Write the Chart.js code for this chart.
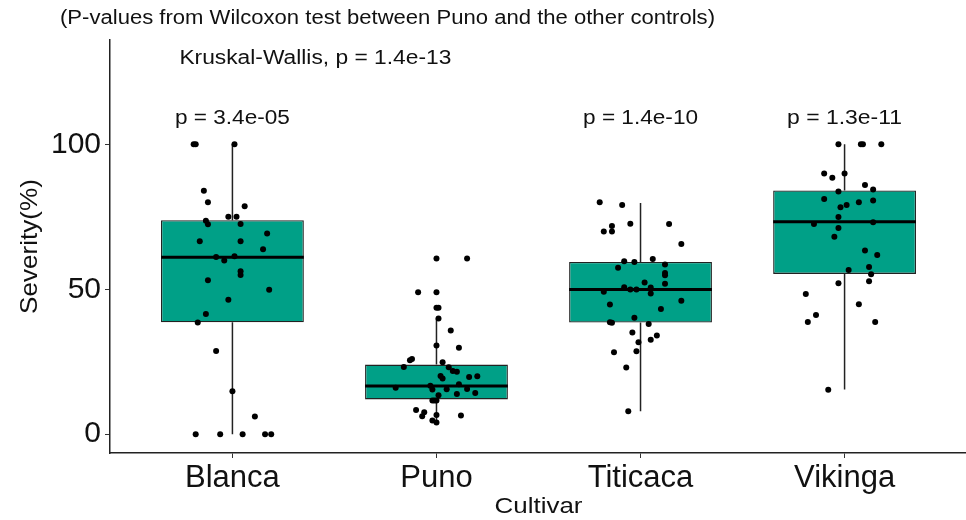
<!DOCTYPE html>
<html lang="en">
  <head>
    <meta charset="UTF-8" />
    <title>Severity by cultivar</title>
    <style>
      html, body { margin: 0; padding: 0; background: #fff; overflow: hidden; }
      #wrap { width: 971px; height: 520px; }
    </style>
  </head>
  <body>
    <div id="wrap"><canvas id="myChart" width="971" height="520"></canvas></div>

    <script src="https://cdn.jsdelivr.net/npm/chart.js@4.4.0/dist/chart.umd.min.js"></script>
    <script>
      const cultivars = ["Blanca", "Puno", "Titicaca", "Vikinga"];
      const q1 = [38.6, 12.0, 38.5, 55.3];
      const medians = [61.0, 16.6, 49.9, 73.3];
      const q3 = [73.8, 24.0, 59.4, 84.1];
      const whiskerLow = [0, 4.0, 7.9, 15.4];
      const whiskerHigh = [100, 39.9, 79.8, 100];
      const pLabels = ["p = 3.4e-05", "", "p = 1.4e-10", "p = 1.3e-11"];
      const kwLabel = "Kruskal-Wallis, p = 1.4e-13";
      const header = "(P-values from Wilcoxon test between Puno and the other controls)";
      const yTicks = [0, 50, 100];

      // jittered observations: [offset from category centre, severity]
      const blancaPts = [[-0.19,100],[-0.18,100],[0.01,100],[-0.14,84],[-0.12,80],[0.06,78.6],[-0.02,75],[0.02,75],[-0.13,73.6],[-0.12,72.4],[0.04,72.5],[-0.16,66.6],[0.04,66.6],[0.17,69.2],[0.15,63.8],[-0.08,61.1],[-0.04,59.9],[0.01,61.4],[0.04,56.2],[0.04,54.9],[-0.12,53.1],[0.18,49.8],[-0.02,46.4],[-0.13,41.5],[-0.17,38.5],[-0.08,28.7],[0,14.8],[0.11,6.1],[-0.18,0],[-0.06,0],[0.05,0],[0.16,0],[0.19,0]];
      const punoPts = [[0,60.6],[0.15,60.6],[-0.09,49],[0,49],[0,43.6],[0.01,43.6],[0.01,39.9],[0.07,35.8],[0,30.6],[0.11,29.8],[-0.13,25.5],[-0.12,25.9],[-0.16,23.2],[0.03,24.8],[0.06,23.1],[0.08,21.8],[0.1,21.5],[0.02,20.1],[0.03,19.2],[0.16,19.7],[0.2,20],[0.11,17.2],[-0.2,16],[-0.03,16.7],[-0.02,15.4],[0.05,15.5],[0.15,15.6],[0.1,13.9],[0.19,14.2],[0.01,13.4],[-0.02,11.6],[-0.01,11.6],[0,11.6],[-0.1,8.3],[-0.06,7.6],[-0.07,6.2],[0,6.6],[0.12,6.4],[-0.02,4.7],[0,4.0]];
      const titicacaPts = [[-0.2,80],[-0.09,79.1],[-0.14,71.8],[-0.14,69.9],[-0.18,69.9],[-0.05,72.6],[0.14,72.5],[0.2,65.6],[-0.08,59.7],[-0.03,59.4],[0.06,60.4],[-0.11,57.4],[0.12,58.5],[0.12,55.6],[0.12,54.8],[0.12,51.9],[0.02,52.3],[-0.08,50.7],[-0.05,49.9],[-0.02,49.9],[0.05,50.6],[0.05,48.5],[-0.18,49.1],[0.2,46],[-0.15,44.7],[0.1,43.2],[-0.03,40.2],[-0.15,38.6],[-0.14,38.4],[0.04,38],[-0.04,35.1],[-0.01,31.7],[0.08,34],[0.05,32.6],[-0.13,28.3],[-0.02,28.6],[-0.07,23],[-0.06,7.9]];
      const vikingaPts = [[-0.03,100],[0.08,100],[0.09,100],[0.18,100],[-0.1,89.9],[-0.06,88.5],[0,89.9],[0.1,86],[0.14,84.4],[-0.03,83.7],[-0.1,81.1],[0.14,80.6],[0.07,80],[0.01,79.1],[-0.02,78.3],[-0.03,74.9],[-0.15,72.5],[0.14,73.1],[-0.03,71.1],[-0.05,68.1],[0.1,63.4],[0.16,61.8],[0.02,56.6],[0.12,57.7],[0.13,55.2],[0.12,52.8],[-0.03,52.1],[-0.19,48.4],[0.07,44.8],[-0.14,41.1],[-0.18,38.7],[0.15,38.7],[-0.08,15.3]];

      const allPts = [blancaPts, punoPts, titicacaPts, vikingaPts];
      const FONT = "'Liberation Sans', Arial, sans-serif";
      const INK = "#111";

      // text squeezed/stretched to a given width, like the reference
      function fitText(ctx, text, x, y, size, width, align) {
        ctx.save();
        ctx.font = size + "px " + FONT;
        ctx.fillStyle = INK;
        ctx.textBaseline = "middle";
        const w = ctx.measureText(text).width;
        const sx = width ? width / w : 1;
        ctx.translate(x, y);
        ctx.scale(sx, 1);
        ctx.textAlign = align || "left";
        ctx.fillText(text, 0, 0);
        ctx.restore();
      }

      const boxExtras = {
        id: "boxExtras",
        afterDatasetDraw(chart, args) {
          if (args.index !== 0) return;
          const { ctx, scales } = chart;
          const xs = scales.x, ys = scales.y;
          const half = (xs.getPixelForValue(1) - xs.getPixelForValue(0)) * 0.35;
          ctx.save();
          ctx.strokeStyle = "#222";
          ctx.lineWidth = 1.5;
          cultivars.forEach((c, i) => {
            const cx = xs.getPixelForValue(i);
            ctx.beginPath();
            ctx.moveTo(cx, ys.getPixelForValue(q3[i]));
            ctx.lineTo(cx, ys.getPixelForValue(whiskerHigh[i]));
            ctx.moveTo(cx, ys.getPixelForValue(q1[i]));
            ctx.lineTo(cx, ys.getPixelForValue(whiskerLow[i]));
            ctx.stroke();
          });
          ctx.strokeStyle = "#000";
          ctx.lineWidth = 3;
          cultivars.forEach((c, i) => {
            const cx = xs.getPixelForValue(i);
            const my = ys.getPixelForValue(medians[i]);
            ctx.beginPath();
            ctx.moveTo(cx - half, my);
            ctx.lineTo(cx + half, my);
            ctx.stroke();
          });
          ctx.restore();
        },
        afterDraw(chart) {
          const { ctx, scales } = chart;
          const xs = scales.x, ys = scales.y;
          fitText(ctx, header, 60, 18, 20, 655, "left");
          fitText(ctx, kwLabel, xs.getPixelForValue(-0.26), ys.getPixelForValue(129.5), 19.5, 272, "left");
          pLabels.forEach((t, i) => {
            if (!t) return;
            fitText(ctx, t, xs.getPixelForValue(i), ys.getPixelForValue(109), 19.5, 115, "center");
          });
          fitText(ctx, "Cultivar", (chart.chartArea.left + chart.chartArea.right) / 2, 507, 22, 88, "center");
          ctx.save();
          ctx.translate(30, (chart.chartArea.top + chart.chartArea.bottom) / 2);
          ctx.rotate(-Math.PI / 2);
          fitText(ctx, "Severity(%)", 0, 0, 24, 135, "center");
          ctx.restore();
        },
      };

      const ctx = document.getElementById("myChart").getContext("2d");
      const myChart = new Chart(ctx, {
        type: "bar",
        data: {
          datasets: [
            {
              type: "bar",
              data: cultivars.map((c, i) => ({ x: i, y: [q1[i], q3[i]] })),
              backgroundColor: "#00A087",
              borderColor: "#222",
              borderWidth: 1.3,
              borderSkipped: false,
              barPercentage: 0.7,
              categoryPercentage: 1,
              order: 2,
            },
            {
              type: "scatter",
              data: allPts.flatMap((pts, i) => pts.map(([dx, y]) => ({ x: i + dx, y: y }))),
              backgroundColor: "#000",
              borderColor: "#000",
              pointRadius: 3,
              borderWidth: 0,
              order: 1,
            },
          ],
        },
        plugins: [boxExtras],
        options: {
          responsive: false,
          animation: false,
          layout: { padding: { top: 40, right: 0, left: 0, bottom: 0 } },
          plugins: { legend: { display: false }, tooltip: { enabled: false } },
          scales: {
            x: {
              type: "linear",
              min: -0.6,
              max: 3.6,
              offset: false,
              afterBuildTicks: (scale) => { scale.ticks = cultivars.map((c, i) => ({ value: i })); },
              afterFit: (scale) => { scale.height = 67; },
              ticks: {
                callback: (v) => cultivars[v],
                autoSkip: false,
                maxRotation: 0,
                padding: 2,
                color: INK,
                font: { family: FONT, size: 31 },
              },
              grid: { offset: false, drawOnChartArea: false, drawTicks: true, tickLength: 5, color: "#333" },
              border: { color: "#222", width: 1.5 },
            },
            y: {
              min: -6.5,
              max: 136,
              afterBuildTicks: (scale) => { scale.ticks = yTicks.map((v) => ({ value: v })); },
              afterFit: (scale) => { scale.width = 110; },
              ticks: {
                padding: 4,
                color: INK,
                font: { family: FONT, size: 30 },
              },
              grid: { drawOnChartArea: false, drawTicks: true, tickLength: 5, color: "#333" },
              border: { color: "#222", width: 1.5 },
            },
          },
        },
      });
    </script>
  </body>
</html>
